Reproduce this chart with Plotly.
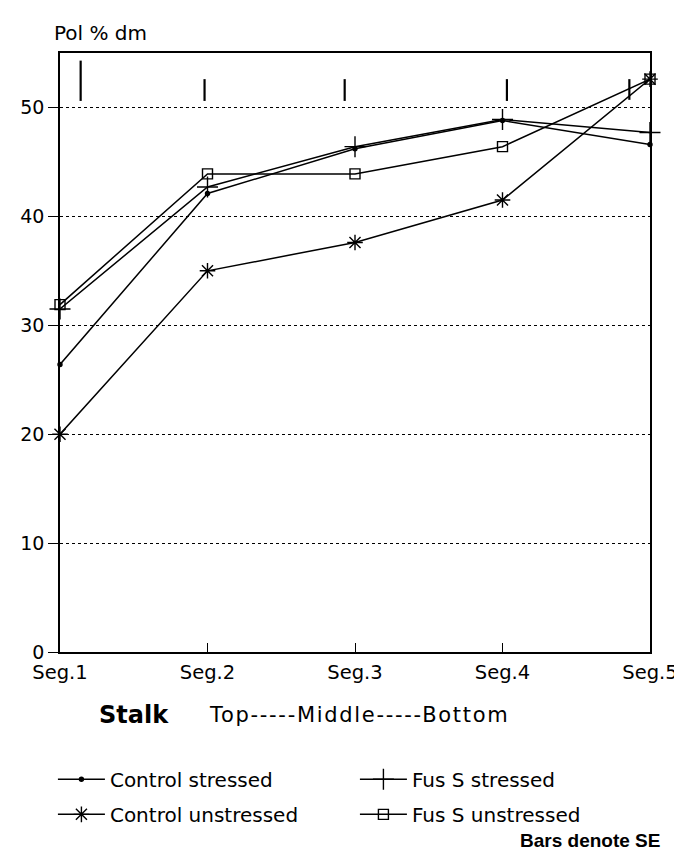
import plotly.graph_objects as go

segments = [1, 2, 3, 4, 5]
seg_labels = ["Seg.1", "Seg.2", "Seg.3", "Seg.4", "Seg.5"]
control_stressed = [26.4, 42.1, 46.2, 48.8, 46.6]
control_unstressed = [20.0, 35.0, 37.6, 41.5, 52.6]
fus_stressed = [31.5, 42.7, 46.4, 48.9, 47.7]
fus_unstressed = [31.9, 43.9, 43.9, 46.4, 52.6]

se_x = [1.14, 1.98, 2.93, 4.03, 4.86]
se_low = [50.6, 50.6, 50.6, 50.6, 50.7]
se_high = [54.3, 52.6, 52.6, 52.6, 52.6]

y_ticks = [0, 10, 20, 30, 40, 50]

FONT = "DejaVu Sans"
fig = go.Figure()

series = [
    ("Control stressed", control_stressed, "circle", 4, "legend"),
    ("Fus S stressed", fus_stressed, "cross-thin-open", 15, "legend"),
    ("Control unstressed", control_unstressed, "asterisk-open", 13, "legend2"),
    ("Fus S unstressed", fus_unstressed, "square-open", 10, "legend2"),
]
for name, vals, sym, size, lg in series:
    fig.add_trace(go.Scatter(
        x=segments, y=vals, name=name, mode="lines+markers",
        line=dict(color="black", width=1.5),
        marker=dict(symbol=sym, size=size, color="black",
                    line=dict(color="black", width=1.4)),
        cliponaxis=False, legend=lg,
    ))

# SE bars drawn as vertical segments
for xv, lo, hi in zip(se_x, se_low, se_high):
    fig.add_trace(go.Scatter(
        x=[xv, xv], y=[lo, hi], mode="lines", showlegend=False,
        line=dict(color="black", width=2.2), hoverinfo="skip",
    ))

legend_common = dict(orientation="h", xanchor="left", yanchor="middle",
                     entrywidth=240, entrywidthmode="pixels", itemwidth=47,
                     font=dict(size=20, family=FONT), bgcolor="rgba(0,0,0,0)")
fig.update_layout(
    width=682, height=853,
    margin=dict(l=47, r=32, t=45, b=209),
    paper_bgcolor="white", plot_bgcolor="white",
    font=dict(family=FONT, color="black", size=19),
    legend=dict(x=-0.012, y=-0.2125, **legend_common),
    legend2=dict(x=-0.012, y=-0.2710, **legend_common),
)

fig.update_xaxes(
    range=[1, 5], tickvals=segments, ticktext=seg_labels,
    showline=True, linecolor="black", linewidth=1.6, mirror=True,
    ticks="inside", ticklen=9, tickcolor="black", tickwidth=1.3, showgrid=False,
    zeroline=False, tickfont=dict(size=19.5, family=FONT), ticklabelstandoff=2,
)
fig.update_yaxes(
    range=[0, 55], tickvals=y_ticks,
    showline=True, linecolor="black", linewidth=1.6, mirror=True,
    ticks="outside", ticklen=10, tickcolor="black", tickwidth=1.3,
    showgrid=True, gridcolor="black", griddash="dot", gridwidth=1,
    zeroline=False, tickfont=dict(size=19, family=FONT),
)

fig.add_annotation(text="Pol % dm", xref="paper", yref="paper", x=-0.014, y=1.0334,
                   xanchor="left", yanchor="middle", showarrow=False,
                   font=dict(size=20, family=FONT))
fig.add_annotation(text="<b>Stalk</b>", xref="paper", yref="paper", x=0.063, y=-0.1054,
                   xanchor="left", yanchor="middle", showarrow=False,
                   font=dict(size=24, family=FONT))
fig.add_annotation(text="<span style='letter-spacing:1.7px'>Top-----Middle-----Bottom</span>",
                   xref="paper", yref="paper",
                   x=0.249, y=-0.1054, xanchor="left", yanchor="middle",
                   showarrow=False, font=dict(size=21, family=FONT))
fig.add_annotation(text="<b>Bars denote SE</b>", xref="paper", yref="paper",
                   x=1.02, y=-0.3139, xanchor="right", yanchor="middle",
                   showarrow=False, font=dict(size=19, family="Liberation Sans"))

fig.write_html("out.html")
